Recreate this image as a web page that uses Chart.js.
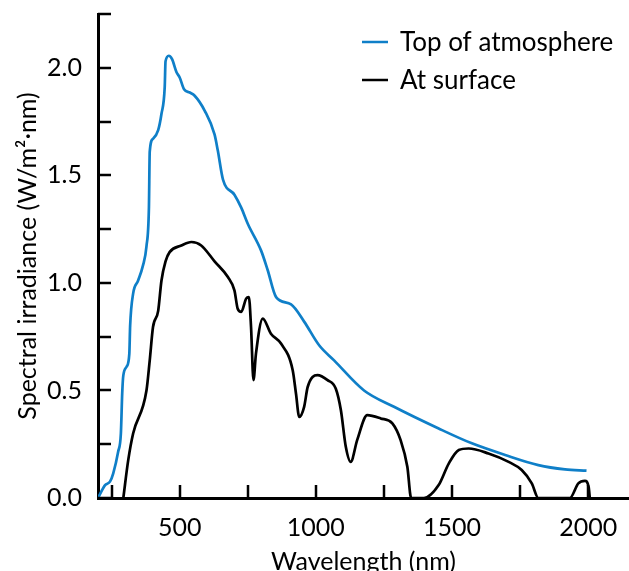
<!DOCTYPE html>
<html>
<head>
<meta charset="utf-8">
<script src="https://cdn.jsdelivr.net/npm/chart.js@4.4.0/dist/chart.umd.min.js"></script>
<style>
  body { margin: 0; background: #fff; }
  #wrap { width: 629px; height: 571px; }
</style>
</head>
<body>
<div id="wrap"><canvas id="myChart"></canvas></div>
<script>
'use strict'

// wavelength (nm) and irradiance
let topWavelength = [200, 226, 244, 256, 274, 284, 289, 293, 305, 315, 318, 329, 347, 365, 378, 387, 390, 402, 421, 433, 445, 448, 460, 472, 488, 500, 516, 537, 555, 592, 628, 640, 659, 701, 726, 750, 799, 823, 854, 909, 957, 1012, 1067, 1177, 1287, 1451, 1573, 1695, 1817, 1915, 1994];
let topIrradiance = [0.0, 0.06, 0.076, 0.115, 0.215, 0.30, 0.49, 0.57, 0.61, 0.67, 0.80, 0.95, 1.01, 1.08, 1.17, 1.35, 1.61, 1.67, 1.71, 1.785, 1.91, 2.03, 2.056, 2.04, 1.98, 1.955, 1.90, 1.885, 1.87, 1.80, 1.69, 1.615, 1.48, 1.41, 1.35, 1.275, 1.15, 1.06, 0.934, 0.90, 0.82, 0.71, 0.64, 0.50, 0.424, 0.323, 0.254, 0.20, 0.153, 0.133, 0.127];

let surfaceWavelength = [293, 311, 329, 378, 390, 402, 421, 433, 448, 463, 506, 543, 579, 628, 677, 701, 713, 726, 744, 754, 762, 771, 780, 805, 835, 872, 915, 927, 939, 957, 970, 1006, 1043, 1073, 1092, 1110, 1128, 1152, 1189, 1238, 1281, 1311, 1336, 1350, 1397, 1451, 1488, 1525, 1561, 1634, 1708, 1756, 1793, 1817, 1933, 1964, 1988, 2002, 2006];
let surfaceIrradiance = [0, 0.176, 0.30, 0.50, 0.64, 0.795, 0.87, 1.01, 1.10, 1.143, 1.174, 1.19, 1.174, 1.10, 1.027, 0.965, 0.88, 0.865, 0.927, 0.934, 0.795, 0.548, 0.67, 0.834, 0.764, 0.718, 0.594, 0.486, 0.377, 0.424, 0.516, 0.571, 0.548, 0.509, 0.408, 0.238, 0.168, 0.27, 0.385, 0.37, 0.347, 0.27, 0.145, 0, 0, 0.06, 0.16, 0.223, 0.23, 0.207, 0.168, 0.13, 0.068, 0, 0, 0.068, 0.08, 0.05, 0];

let seriesNames = ['Top of atmosphere', 'At surface'];
let xTicks = [250, 500, 750, 1000, 1250, 1500, 1750, 2000];
let yTicks = [0, 0.25, 0.5, 0.75, 1.0, 1.25, 1.5, 1.75, 2.0, 2.25];

const blue = '#0f7fc8';
const fontName = 'Lato, "Open Sans", sans-serif';
const fontSize = 25;

function toPoints(xs, ys) { // pair up the two arrays for chart.js
    let pts = [];
    for (let i = 0; i < xs.length; i++) {
        pts.push({ x: xs[i], y: ys[i] });
    }
    return pts;
}

// legend drawn in the top right corner of the plot
const cornerLegend = {
    id: 'cornerLegend',
    afterDraw(chart) {
        let ctx = chart.ctx;
        let area = chart.chartArea;
        ctx.save();
        ctx.font = '26px ' + fontName;
        ctx.textBaseline = 'middle';
        ctx.fillStyle = '#000';
        chart.data.datasets.forEach(function (ds, i) {
            let y = area.top + 28 + i * 38;
            let x = area.right - 267;
            ctx.strokeStyle = ds.borderColor;
            ctx.lineWidth = 2.5;
            ctx.beginPath();
            ctx.moveTo(x, y);
            ctx.lineTo(x + 26, y);
            ctx.stroke();
            ctx.fillText(ds.label, x + 38, y + 1);
        });
        ctx.restore();
    }
};

// tick marks pointing into the plot
const inwardTicks = {
    id: 'inwardTicks',
    afterDraw(chart) {
        let ctx = chart.ctx;
        let area = chart.chartArea;
        let xs = chart.scales.x;
        let ys = chart.scales.y;
        ctx.save();
        ctx.strokeStyle = '#000';
        ctx.lineWidth = 2.5;
        ctx.beginPath();
        xTicks.forEach(function (v) {
            let px = Math.round(xs.getPixelForValue(v));
            ctx.moveTo(px, area.bottom);
            ctx.lineTo(px, area.bottom - 13);
        });
        yTicks.forEach(function (v) {
            let py = Math.round(ys.getPixelForValue(v));
            ctx.moveTo(area.left, py);
            ctx.lineTo(area.left + 13, py);
        });
        ctx.stroke();
        ctx.restore();
    }
};

const data = {
    datasets: [{
        label: seriesNames[0],
        data: toPoints(topWavelength, topIrradiance),
        borderColor: blue,
        borderWidth: 2.7,
        pointRadius: 0,
        cubicInterpolationMode: 'monotone'
    },
    {
        label: seriesNames[1],
        data: toPoints(surfaceWavelength, surfaceIrradiance),
        borderColor: '#000',
        borderWidth: 2.7,
        pointRadius: 0,
        cubicInterpolationMode: 'monotone'
    }]
};

const config = {
    type: 'line',
    data: data,
    options: {
        responsive: true,
        maintainAspectRatio: false,
        animation: false,
        layout: { padding: { top: 14, right: 0, left: 0, bottom: 0 } },
        plugins: {
            legend: { display: false },
            tooltip: { enabled: false }
        },
        scales: {
            x: {
                type: 'linear',
                min: 200,
                max: 2150,
                afterBuildTicks: function (scale) {
                    scale.ticks = xTicks.map(v => ({ value: v }));
                },
                afterFit: function (scale) { scale.height = 73; },
                ticks: {
                    color: '#000',
                    font: { family: fontName, size: fontSize, lineHeight: 1 },
                    padding: 0,
                    maxRotation: 0,
                    callback: v => (v % 500 === 0 ? String(v) : '')
                },
                grid: { drawOnChartArea: false, tickLength: 17, tickColor: 'rgba(0,0,0,0)' },
                border: { color: '#000', width: 3 },
                title: {
                    display: true,
                    text: 'Wavelength (nm)',
                    color: '#000',
                    font: { family: fontName, size: fontSize },
                    padding: { top: 0, bottom: -6 }
                }
            },
            y: {
                min: 0,
                max: 2.25,
                afterBuildTicks: function (scale) {
                    scale.ticks = yTicks.map(v => ({ value: v }));
                },
                afterFit: function (scale) { scale.width = 98; },
                ticks: {
                    color: '#000',
                    font: { family: fontName, size: fontSize, lineHeight: 1 },
                    padding: 0,
                    callback: v => (Math.round(v * 100) % 50 === 0 ? v.toFixed(1) : '')
                },
                grid: { drawOnChartArea: false, tickLength: 16, tickColor: 'rgba(0,0,0,0)' },
                border: { color: '#000', width: 3 },
                title: {
                    display: true,
                    text: 'Spectral irradiance (W/m²·nm)',
                    color: '#000',
                    font: { family: fontName, size: fontSize },
                    padding: { top: 13, bottom: 0 }
                }
            }
        }
    },
    plugins: [cornerLegend, inwardTicks]
};

let canvasChart = document.getElementById('myChart');
const myChart = new Chart(canvasChart, config);
</script>
</body>
</html>
